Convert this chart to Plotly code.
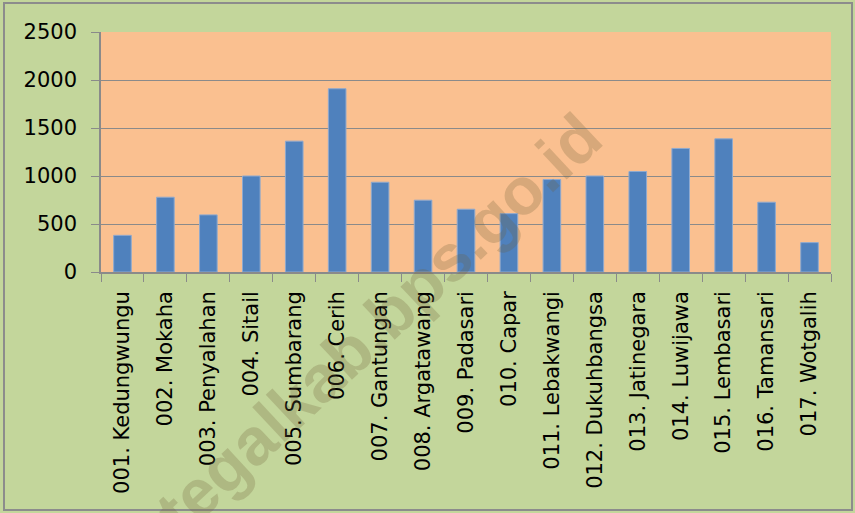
import plotly.graph_objects as go

categories = ["001. Kedungwungu", "002. Mokaha", "003. Penyalahan", "004. Sitail",
              "005. Sumbarang", "006. Cerih", "007. Gantungan", "008. Argatawang",
              "009. Padasari", "010. Capar", "011. Lebakwangi", "012. Dukuhbangsa",
              "013. Jatinegara", "014. Luwijawa", "015. Lembasari", "016. Tamansari",
              "017. Wotgalih"]
values = [382, 779, 595, 1000, 1363, 1909, 935, 748, 654, 608, 963, 1000, 1047, 1287, 1387, 727, 306]
y_ticks = [0, 500, 1000, 1500, 2000, 2500]

W, H = 855, 513
L, R, T, B = 101, 24, 32, 241
pw, ph = W - L - R, H - T - B

def px(x):
    return (x - L) / pw

def py(y):
    return (H - B - y) / ph

fig = go.Figure(go.Bar(
    x=categories, y=values,
    marker=dict(color="#4F81BD", line=dict(color="#8EA9CF", width=1)),
    width=0.41,
))

fig.update_layout(
    width=W, height=H,
    margin=dict(l=L, r=R, t=T, b=B, autoexpand=False),
    paper_bgcolor="#C3D69B",
    plot_bgcolor="#FAC090",
    font=dict(family="DejaVu Sans", color="black"),
    showlegend=False,
    xaxis=dict(
        type="category", tickangle=-90, tickfont=dict(size=21),
        showline=True, linecolor="#8A8A8A", linewidth=1.5,
        ticks="outside", tickson="boundaries", ticklen=8, tickcolor="#8A8A8A",
        ticklabelstandoff=9, showgrid=False, automargin=False,
    ),
    yaxis=dict(
        range=[0, 2500], tickvals=y_ticks, tickfont=dict(size=21),
        showline=True, linecolor="#8A8A8A", linewidth=1.5,
        ticks="outside", ticklen=8, tickcolor="#8A8A8A",
        gridcolor="#8A8A8A", gridwidth=1.3, zeroline=False,
        ticklabelstandoff=10, automargin=False,
    ),
    shapes=[dict(type="rect", xref="paper", yref="paper",
                 x0=px(4), x1=px(852), y0=py(510), y1=py(3),
                 line=dict(color="#8C8C8C", width=2), fillcolor="rgba(0,0,0,0)")],
    annotations=[dict(text="<b>tegalkab.bps.go.id</b>", xref="paper", yref="paper",
                      x=px(378), y=py(324), xanchor="center", yanchor="middle",
                      showarrow=False, textangle=-43,
                      font=dict(size=66, family="Liberation Sans", color="rgba(110,95,55,0.25)"),
                      )],
)

fig.write_html("out.html", config={"displayModeBar": False},
               post_script="document.body.style.margin='0';")
